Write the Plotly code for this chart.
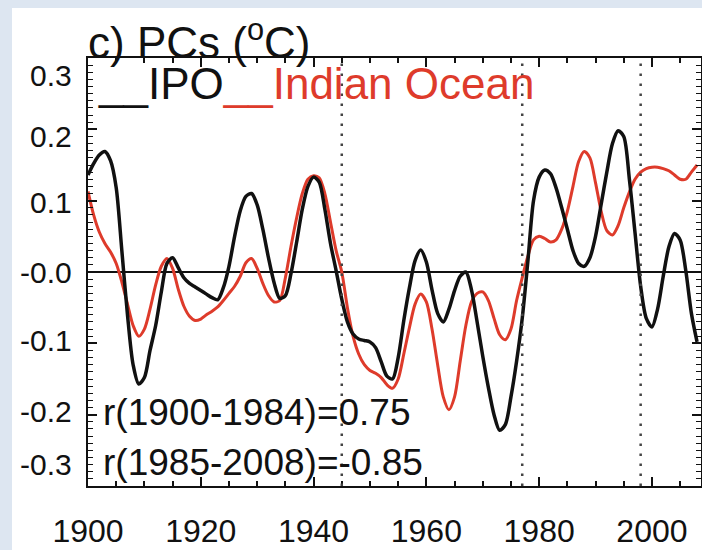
import plotly.graph_objects as go

# Annual principal-component time series, 1900-2008 (deg C)
years = list(range(1900, 2009))

ipo = [
    0.136, 0.152, 0.164, 0.169, 0.156, 0.118, 0.030, -0.060, -0.130, -0.157,
    -0.148, -0.110, -0.075, -0.028, 0.012, 0.020, 0.006, -0.008, -0.016, -0.021,
    -0.026, -0.031, -0.036, -0.039, -0.022, 0.008, 0.050, 0.086, 0.106, 0.110,
    0.094, 0.060, 0.020, -0.015, -0.037, -0.033, -0.002, 0.042, 0.088, 0.120,
    0.133, 0.126, 0.088, 0.040, 0.002, -0.038, -0.070, -0.087, -0.094, -0.096,
    -0.098, -0.106, -0.126, -0.146, -0.150, -0.120, -0.068, -0.022, 0.016, 0.031,
    0.014, -0.025, -0.058, -0.070, -0.052, -0.026, -0.006, 0.000, -0.025, -0.070,
    -0.118, -0.162, -0.200, -0.222, -0.214, -0.175, -0.125, -0.065, 0.015, 0.100,
    0.133, 0.143, 0.138, 0.118, 0.090, 0.060, 0.030, 0.012, 0.008, 0.020,
    0.050, 0.095, 0.140, 0.180, 0.198, 0.190, 0.130, 0.055, -0.020, -0.065,
    -0.077, -0.052, -0.006, 0.035, 0.054, 0.045, 0.002, -0.058, -0.098,
]

indian_ocean = [
    0.113, 0.080, 0.056, 0.040, 0.028, 0.012, -0.014, -0.045, -0.075, -0.090,
    -0.080, -0.052, -0.018, 0.008, 0.019, 0.005, -0.024, -0.048, -0.062, -0.068,
    -0.066, -0.060, -0.055, -0.049, -0.040, -0.030, -0.020, -0.006, 0.013, 0.019,
    0.005, -0.016, -0.033, -0.042, -0.040, -0.008, 0.036, 0.076, 0.110, 0.130,
    0.135, 0.132, 0.110, 0.070, 0.030, 0.000, -0.050, -0.090, -0.115, -0.130,
    -0.138, -0.142, -0.148, -0.158, -0.163, -0.150, -0.115, -0.078, -0.045, -0.031,
    -0.042, -0.080, -0.130, -0.175, -0.193, -0.175, -0.125, -0.075, -0.042, -0.030,
    -0.028, -0.040, -0.065, -0.088, -0.095, -0.080, -0.040, -0.008, 0.022, 0.045,
    0.050, 0.047, 0.042, 0.045, 0.060, 0.085, 0.120, 0.155, 0.169, 0.160,
    0.125, 0.085, 0.058, 0.052, 0.065, 0.090, 0.112, 0.130, 0.140, 0.145,
    0.147, 0.147, 0.145, 0.142, 0.136, 0.130, 0.130, 0.140, 0.150,
]

# Years of the IPO phase shifts (dotted verticals)
phase_shift_years = [1945, 1977, 1998]

x_ticks = [1900, 1920, 1940, 1960, 1980, 2000]
y_ticks = [0.3, 0.2, 0.1, 0.0, -0.1, -0.2, -0.3]
y_tick_text = ["0.3", "0.2", "0.1", "-0.0", "-0.1", "-0.2", "-0.3"]
# small vertical nudges (px) applied to the y tick labels
y_label_shift = [-17, -7, -2, 0, 3, 3, 22]

correlation_text = ["r(1900-1984)=0.75", "r(1985-2008)=-0.85"]

FONT = "Liberation Sans, Arial, Helvetica, sans-serif"
BLACK = "#111111"
RED = "#de3b2b"

W, H = 702, 550
ML, MR, MT, MB = 88, 1, 58, 64
plot_w = W - ML - MR
plot_h = H - MT - MB


def px_to_paper_x(px):
    return (px - ML) / plot_w


def px_to_paper_y(py):
    return (H - MB - py) / plot_h


fig = go.Figure()

fig.add_trace(go.Scatter(
    x=years, y=indian_ocean, mode="lines", name="Indian Ocean",
    line=dict(color=RED, width=3, shape="spline", smoothing=0.8),
))
fig.add_trace(go.Scatter(
    x=years, y=ipo, mode="lines", name="IPO",
    line=dict(color=BLACK, width=3.5, shape="spline", smoothing=0.8),
))

shapes = [
    # white panel on the light-blue page
    dict(type="rect", xref="paper", yref="paper", layer="below",
         x0=px_to_paper_x(12), x1=px_to_paper_x(W + 5),
         y0=px_to_paper_y(H + 5), y1=px_to_paper_y(8),
         fillcolor="white", line=dict(width=0)),
]
for yr in phase_shift_years:
    shapes.append(dict(type="line", xref="x", yref="paper",
                       x0=yr, x1=yr, y0=0, y1=1,
                       line=dict(color="#444444", width=2.5, dash="2.5px,7.5px")))

annotations = [
    dict(text="c) PCs (<sup>o</sup>C)", xref="paper", yref="paper",
         x=px_to_paper_x(86), y=px_to_paper_y(40), xanchor="left", yanchor="middle",
         showarrow=False, font=dict(family=FONT, size=44, color=BLACK)),
    dict(text=f"<span style='color:{BLACK}'>__IPO</span>"
              f"<span style='color:{RED}'>__Indian Ocean</span>",
         xref="paper", yref="paper", x=px_to_paper_x(96), y=px_to_paper_y(84),
         xanchor="left", yanchor="middle", showarrow=False,
         font=dict(family=FONT, size=44)),
]
for txt, py in zip(correlation_text, [412, 462]):
    annotations.append(dict(text=txt, xref="paper", yref="paper",
                            x=px_to_paper_x(101), y=px_to_paper_y(py),
                            xanchor="left", yanchor="middle", showarrow=False,
                            font=dict(family=FONT, size=37, color=BLACK)))
for v, t, s in zip(y_ticks, y_tick_text, y_label_shift):
    annotations.append(dict(text=t, xref="paper", yref="y", x=0, y=v,
                            xanchor="right", yanchor="middle", xshift=-14,
                            yshift=s, showarrow=False,
                            font=dict(family=FONT, size=30, color=BLACK)))

fig.update_layout(
    width=W, height=H,
    margin=dict(l=ML, r=MR, t=MT, b=MB, autoexpand=False),
    paper_bgcolor="#dde6f1",
    plot_bgcolor="white",
    showlegend=False,
    font=dict(family=FONT, color=BLACK),
    shapes=shapes,
    annotations=annotations,
)

fig.update_xaxes(
    range=[1900, 2008.7], tickvals=x_ticks, automargin=False,
    ticks="inside", ticklen=9, tickwidth=2, tickcolor=BLACK,
    minor=dict(dtick=5, tick0=1900, ticks="inside", ticklen=5, tickwidth=1.5,
               tickcolor=BLACK, showgrid=False),
    showline=True, linewidth=2, linecolor=BLACK, mirror="ticks",
    showgrid=False, zeroline=False,
    tickfont=dict(family=FONT, size=32, color=BLACK),
    ticklabelstandoff=16,
)
fig.update_yaxes(
    range=[-0.3, 0.3], tick0=0, dtick=0.1, automargin=False,
    ticks="inside", ticklen=9, tickwidth=2, tickcolor=BLACK,
    minor=dict(dtick=0.01, ticks="inside", ticklen=5, tickwidth=1.2,
               tickcolor=BLACK, showgrid=False),
    showline=True, linewidth=2, linecolor=BLACK, mirror="ticks",
    showgrid=False, showticklabels=False,
    zeroline=True, zerolinecolor=BLACK, zerolinewidth=1.5,
)

fig.write_html("out.html")
